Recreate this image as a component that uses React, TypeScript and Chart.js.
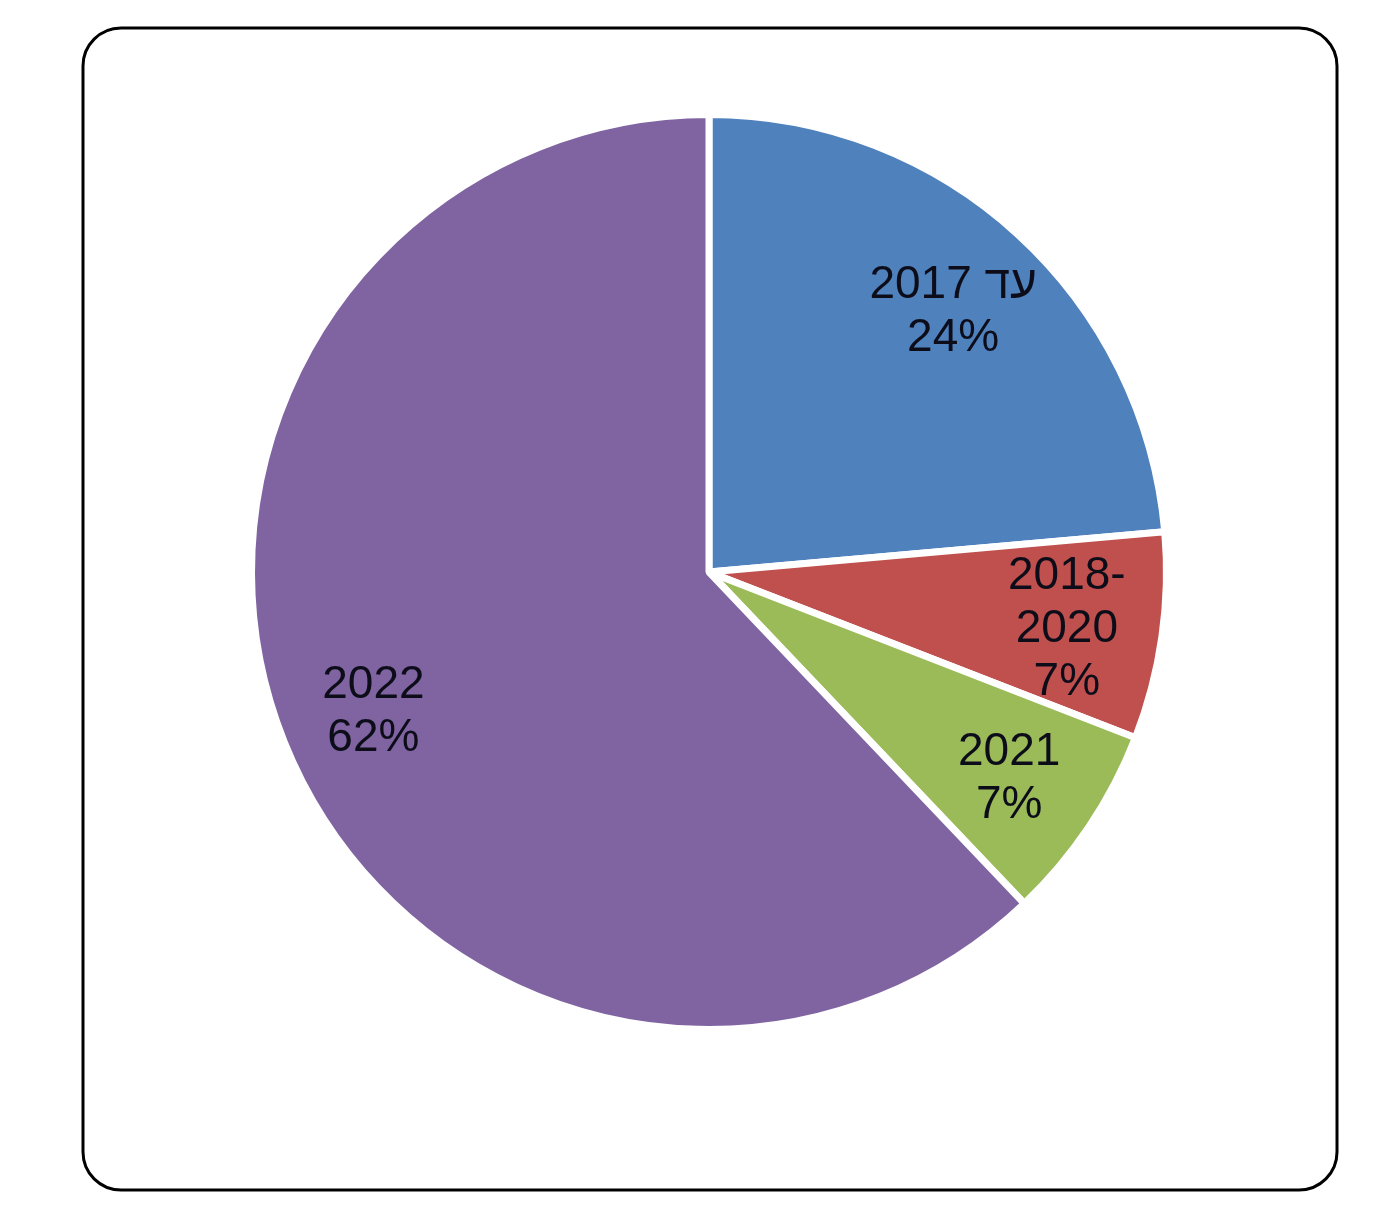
import React, { useEffect, useRef } from "react";
import { Chart, registerables } from "chart.js";

Chart.register(...registerables);

const categoryLines: string[][] = [["עד 2017"], ["2018-", "2020"], ["2021"], ["2022"]];
const shareValues: number[] = [23.6, 7.3, 7.0, 62.1];
const sliceColors: string[] = ["#4F81BD", "#C0504D", "#9BBB59", "#8064A2"];

const hebrew = /[\u0590-\u05FF]/;

const frameAndLabels = {
  id: "frameAndLabels",
  beforeDraw(chart: any) {
    const ctx = chart.ctx;
    ctx.save();
    ctx.fillStyle = "#ffffff";
    ctx.fillRect(0, 0, chart.width, chart.height);
    ctx.beginPath();
    ctx.roundRect(83, 28, 1254, 1162, 38);
    ctx.lineWidth = 3;
    ctx.strokeStyle = "#000000";
    ctx.stroke();
    ctx.restore();
  },
  afterDatasetsDraw(chart: any) {
    const ctx = chart.ctx;
    const meta = chart.getDatasetMeta(0);
    const ds = chart.data.datasets[0];
    ctx.save();
    ctx.font = "46px 'Liberation Sans', Arial, sans-serif";
    ctx.fillStyle = "#0d0d1a";
    ctx.textAlign = "center";
    ctx.textBaseline = "middle";
    const lineH = 53;
    meta.data.forEach((arc: any, i: number) => {
      const p = arc.getProps(["x", "y", "startAngle", "endAngle", "outerRadius"], true);
      const mid = (p.startAngle + p.endAngle) / 2;
      const rr = p.outerRadius * 0.79;
      const cx = p.x + Math.cos(mid) * rr;
      const cy = p.y + Math.sin(mid) * rr + 6;
      const lines = [...categoryLines[i], Math.round(ds.data[i]) + "%"];
      const top = cy - ((lines.length - 1) * lineH) / 2;
      lines.forEach((t, j) => {
        ctx.direction = hebrew.test(t) ? "rtl" : "ltr";
        ctx.fillText(t, cx, top + j * lineH);
      });
    });
    ctx.restore();
  },
};

export default function App() {
  const ref = useRef<HTMLCanvasElement | null>(null);
  useEffect(() => {
    if (!ref.current) return;
    const chart = new Chart(ref.current, {
      type: "pie",
      data: {
        labels: categoryLines.map((l) => l.join(" ")),
        datasets: [
          {
            data: shareValues,
            backgroundColor: sliceColors,
            borderColor: "#ffffff",
            borderWidth: 7,
          },
        ],
      },
      options: {
        responsive: false,
        animation: false,
        layout: { padding: { left: 248, right: 230, top: 111, bottom: 199 } },
        plugins: {
          legend: { display: false },
          tooltip: { enabled: false },
        },
      },
      plugins: [frameAndLabels],
    });
    return () => chart.destroy();
  }, []);
  return (
    <div style={{ position: "absolute", left: 0, top: 0, width: 1400, height: 1232, background: "#fff" }}>
      <canvas ref={ref} width={1400} height={1232} style={{ width: 1400, height: 1232, display: "block" }} />
    </div>
  );
}
